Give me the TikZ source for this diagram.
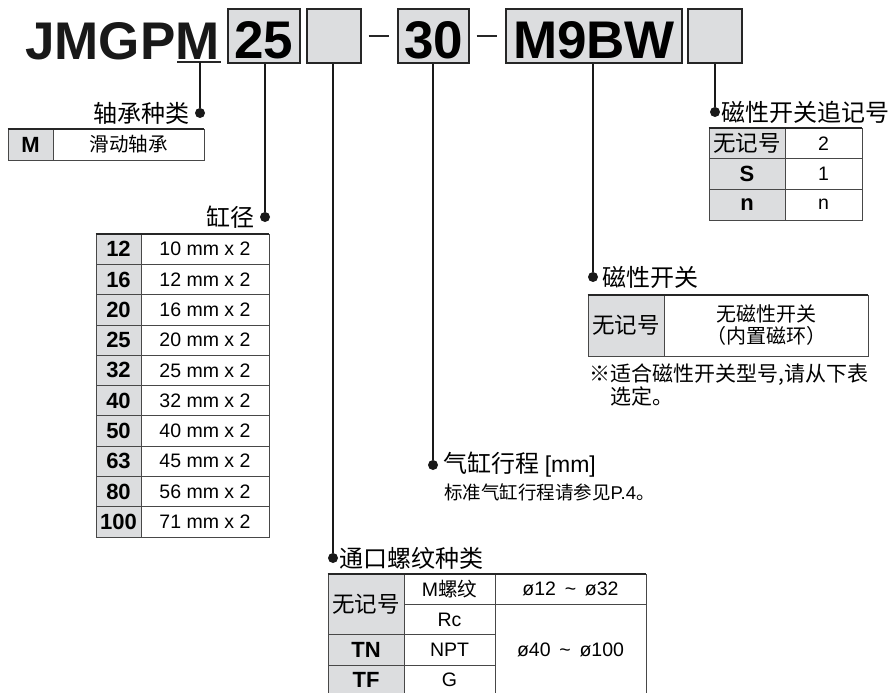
\documentclass[tikz,border=0pt]{standalone}
\usepackage{fontspec}
\setmainfont{Liberation Sans}
\newfontfamily\cjk{Noto Sans CJK SC}
\usetikzlibrary{positioning}
\definecolor{boxgray}{RGB}{220,221,223}
\definecolor{rulegray}{RGB}{72,72,72}
\newcommand{\fs}[1]{\fontsize{#1}{#1}\selectfont}
\newcommand{\tildesep}{\hspace{0.45em}\textasciitilde\hspace{0.45em}}

\tikzset{
  codebox/.style={draw=black!85, line width=1.4pt, fill=boxgray, inner sep=0pt, minimum height=54pt, text height=46pt, text depth=0pt, font=\fs{53}\bfseries},
  lead/.style={line width=1.3pt, black!90},
  hyphen/.style={line width=2.5pt, black!85},
  pin/.style={circle, fill=black!90, inner sep=0pt, minimum size=10pt},
  tag/.style={inner sep=0pt, font=\cjk\fs{24}},
  keycell/.style={draw=rulegray, line width=0.8pt, fill=boxgray, inner sep=0pt, font=\fs{22}\bfseries},
  valcell/.style={draw=rulegray, line width=0.8pt, inner sep=0pt, font=\fs{19.5}},
  toprule/.style={line width=2pt, black!85},
  borekey/.style={keycell, minimum width=45pt, minimum height=30.3pt},
  boreval/.style={valcell, minimum width=128pt, minimum height=30.3pt},
}

\begin{document}
\begin{tikzpicture}[x=1pt, y=-1pt]
  \useasboundingbox (0,0) rectangle (892,693);

  % model code
  \node[anchor=base west, inner sep=0pt, font=\fs{53}\bfseries, black!90] (model) at (25,60) {JMGPM};
  \coordinate (bearing) at (200,62);
  \draw[line width=1.5pt, black!85] ([xshift=-23pt]bearing) -- ([xshift=21pt]bearing);

  \node[codebox, minimum width=72pt] (bore) at (264,36) {25};
  \node[codebox, minimum width=54pt] (port) at (334,36) {};
  \node[codebox, minimum width=71pt] (stroke) at (433.5,36) {30};
  \node[codebox, minimum width=176pt] (switch) at (594,36) {M9BW};
  \node[codebox, minimum width=54pt] (suffix) at (715,36) {};

  \draw[hyphen] ([xshift=7pt]port.east) -- ([xshift=-8pt]stroke.west);
  \draw[hyphen] ([xshift=7pt]stroke.east) -- ([xshift=-8pt]switch.west);

  % pins and leads
  \node[pin] (pBearing) at (200,113) {};
  \node[pin] (pBore) at (265,217) {};
  \node[pin] (pPort) at (333,558) {};
  \node[pin] (pStroke) at (433,465) {};
  \node[pin] (pSwitch) at (593,277) {};
  \node[pin] (pSuffix) at (715,112) {};

  \draw[lead] (bearing) -- (pBearing);
  \draw[lead] (bore.south -| pBore) -- (pBore);
  \draw[lead] (port.south -| pPort) -- (pPort);
  \draw[lead] (stroke.south -| pStroke) -- (pStroke);
  \draw[lead] (switch.south -| pSwitch) -- (pSwitch);
  \draw[lead] (suffix.south -| pSuffix) -- (pSuffix);

  \node[tag, anchor=east] (tBearing) at ([xshift=-5pt]pBearing.west) {轴承种类};
  \node[tag, anchor=east] (tBore) at ([xshift=-5pt]pBore.west) {缸径};
  \node[tag, anchor=west] (tPort) at ([xshift=1pt]pPort.east) {通口螺纹种类};
  \node[tag, anchor=west] (tStroke) at ([xshift=5pt]pStroke.east) {气缸行程 {\normalfont\fs{23}[mm]}};
  \node[tag, anchor=west] (tSwitch) at ([xshift=4pt]pSwitch.east) {磁性开关};
  \node[tag, anchor=west] (tSuffix) at ([xshift=1pt]pSuffix.east) {磁性开关追记号};

  \node[anchor=west, inner sep=0pt, font=\cjk\fs{18.5}] (nStroke) at (444,492) {标准气缸行程请参见{\normalfont P.4}。};

  % bearing table
  \node[keycell, minimum width=45pt, minimum height=31pt] (kM) at (30.5,144.5) {M};
  \node[valcell, minimum width=151pt, minimum height=31pt, font=\cjk\fs{19.5}] (vM) at (128.5,144.5) {滑动轴承};
  \draw[toprule] (kM.north west) -- (vM.north east);

  % bore table
  \node[borekey] (k12) at (118.5,249.15) {12};
  \node[boreval] (v12) at (205,249.15) {10 mm x 2};
  \node[borekey] (k16) at (118.5,279.45) {16};
  \node[boreval] (v16) at (205,279.45) {12 mm x 2};
  \node[borekey] (k20) at (118.5,309.75) {20};
  \node[boreval] (v20) at (205,309.75) {16 mm x 2};
  \node[borekey] (k25) at (118.5,340.05) {25};
  \node[boreval] (v25) at (205,340.05) {20 mm x 2};
  \node[borekey] (k32) at (118.5,370.35) {32};
  \node[boreval] (v32) at (205,370.35) {25 mm x 2};
  \node[borekey] (k40) at (118.5,400.65) {40};
  \node[boreval] (v40) at (205,400.65) {32 mm x 2};
  \node[borekey] (k50) at (118.5,430.95) {50};
  \node[boreval] (v50) at (205,430.95) {40 mm x 2};
  \node[borekey] (k63) at (118.5,461.25) {63};
  \node[boreval] (v63) at (205,461.25) {45 mm x 2};
  \node[borekey] (k80) at (118.5,491.55) {80};
  \node[boreval] (v80) at (205,491.55) {56 mm x 2};
  \node[borekey] (k100) at (118.5,521.85) {100};
  \node[boreval] (v100) at (205,521.85) {71 mm x 2};
  \draw[toprule] (k12.north west) -- (v12.north east);

  % suffix table
  \node[keycell, minimum width=76pt, minimum height=30.7pt, font=\cjk\fs{22.5}] (kNone) at (747,143.3) {无记号};
  \node[valcell, minimum width=77pt, minimum height=30.7pt] (vNone) at (823.5,143.3) {2};
  \node[keycell, minimum width=76pt, minimum height=30.7pt] (kS) at (747,174) {S};
  \node[valcell, minimum width=77pt, minimum height=30.7pt] (vS) at (823.5,174) {1};
  \node[keycell, minimum width=76pt, minimum height=30.7pt] (kn) at (747,204.7) {n};
  \node[valcell, minimum width=77pt, minimum height=30.7pt] (vn) at (823.5,204.7) {n};
  \draw[toprule] (kNone.north west) -- (vNone.north east);

  % switch table
  \node[keycell, minimum width=76pt, minimum height=61pt, font=\cjk\fs{22.5}] (kSw) at (626,325.5) {无记号};
  \node[valcell, minimum width=204pt, minimum height=61pt, align=center, font=\cjk\fontsize{20}{22}\selectfont] (vSw) at (766,325.5) {无磁性开关\\（内置磁环）};
  \draw[toprule] (kSw.north west) -- (vSw.north east);
  \node[anchor=west, inner sep=0pt, align=left, font=\cjk\fontsize{21}{20.5}\selectfont] (nSwitch) at (589,385) {※适合磁性开关型号,请从下表\\\hspace{1em}选定。};

  % port table
  \node[keycell, minimum width=76pt, minimum height=60.6pt, font=\cjk\fs{22.5}] (kPortA) at (366,604.3) {无记号};
  \node[keycell, minimum width=76pt, minimum height=30.3pt] (kTN) at (366,649.75) {TN};
  \node[keycell, minimum width=76pt, minimum height=30.3pt] (kTF) at (366,680.05) {TF};
  \node[valcell, minimum width=91pt, minimum height=30.3pt] (vM5) at (449.5,589.15) {M{\cjk 螺纹}};
  \node[valcell, minimum width=91pt, minimum height=30.3pt] (vRc) at (449.5,619.45) {Rc};
  \node[valcell, minimum width=91pt, minimum height=30.3pt] (vNPT) at (449.5,649.75) {NPT};
  \node[valcell, minimum width=91pt, minimum height=30.3pt] (vG) at (449.5,680.05) {G};
  \node[valcell, minimum width=151pt, minimum height=30.3pt] (rSmall) at (570.5,589.15) {ø12\tildesep ø32};
  \node[valcell, minimum width=151pt, minimum height=90.9pt] (rLarge) at (570.5,649.75) {ø40\tildesep ø100};
  \draw[toprule] (kPortA.north west) -- (rSmall.north east);
\end{tikzpicture}
\end{document}
